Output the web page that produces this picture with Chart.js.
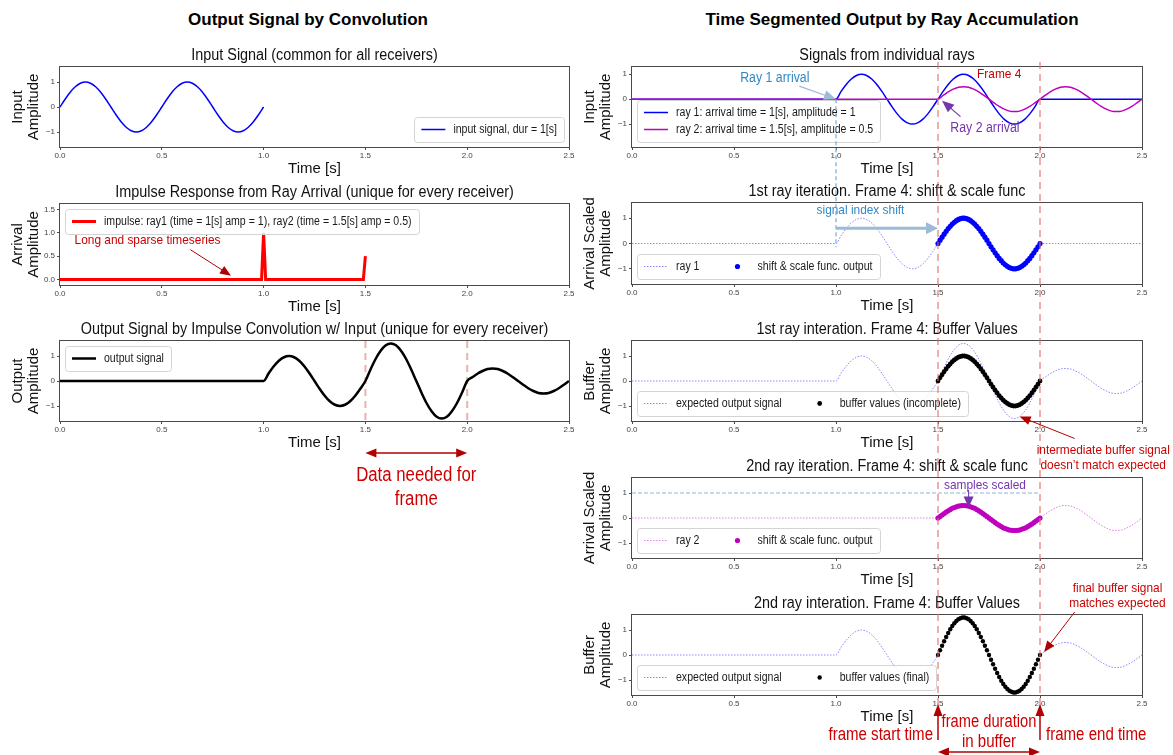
<!DOCTYPE html>
<html>
<head>
<meta charset="utf-8">
<title>Output by convolution vs ray accumulation</title>
<script src="https://cdn.jsdelivr.net/npm/chart.js@4.4.1/dist/chart.umd.min.js"></script>
<style>
  body { margin: 0; width: 1173px; height: 755px; background: #fff; position: relative; overflow: hidden; }
  .sup { position: absolute; top: 10px; font: bold 17px "Liberation Sans Narrow", "Liberation Sans", Arial, sans-serif; color: #000; text-align: center; }
  canvas { position: absolute; }
</style>
</head>
<body>
<div class="sup" style="left:8px;width:600px">Output Signal by Convolution</div>
<div class="sup" style="left:592px;width:600px">Time Segmented Output by Ray Accumulation</div>
<canvas id="overlay" width="1173" height="755" style="left:0;top:0;z-index:5;pointer-events:none"></canvas>
<script>
// sample times [s]
const t = [0, 0.025, 0.05, 0.075, 0.1, 0.125, 0.15, 0.175, 0.2, 0.225,
  0.25, 0.275, 0.3, 0.325, 0.35, 0.375, 0.4, 0.425, 0.45, 0.475,
  0.5, 0.525, 0.55, 0.575, 0.6, 0.625, 0.65, 0.675, 0.7, 0.725,
  0.75, 0.775, 0.8, 0.825, 0.85, 0.875, 0.9, 0.925, 0.95, 0.975,
  1, 1.025, 1.05, 1.075, 1.1, 1.125, 1.15, 1.175, 1.2, 1.225,
  1.25, 1.275, 1.3, 1.325, 1.35, 1.375, 1.4, 1.425, 1.45, 1.475,
  1.5, 1.525, 1.55, 1.575, 1.6, 1.625, 1.65, 1.675, 1.7, 1.725,
  1.75, 1.775, 1.8, 1.825, 1.85, 1.875, 1.9, 1.925, 1.95, 1.975,
  2, 2.025, 2.05, 2.075, 2.1, 2.125, 2.15, 2.175, 2.2, 2.225,
  2.25, 2.275, 2.3, 2.325, 2.35, 2.375, 2.4, 2.425, 2.45, 2.475,
  2.5];

const inputT = t.slice(0, 41);
const inputSignal = [0, 0.31, 0.59, 0.81, 0.95, 1, 0.95, 0.81, 0.59, 0.31,
  0, -0.31, -0.59, -0.81, -0.95, -1, -0.95, -0.81, -0.59, -0.31,
  0, 0.31, 0.59, 0.81, 0.95, 1, 0.95, 0.81, 0.59, 0.31,
  0, -0.31, -0.59, -0.81, -0.95, -1, -0.95, -0.81, -0.59, -0.31,
  0];

const impulseT = [0, 0.99, 1.0, 1.01, 1.49, 1.5];
const impulseAmp = [0, 0, 1, 0, 0, 0.5];

const ray1Signal = [0, 0, 0, 0, 0, 0, 0, 0, 0, 0,
  0, 0, 0, 0, 0, 0, 0, 0, 0, 0,
  0, 0, 0, 0, 0, 0, 0, 0, 0, 0,
  0, 0, 0, 0, 0, 0, 0, 0, 0, 0,
  0, 0.31, 0.59, 0.81, 0.95, 1, 0.95, 0.81, 0.59, 0.31,
  0, -0.31, -0.59, -0.81, -0.95, -1, -0.95, -0.81, -0.59, -0.31,
  0, 0.31, 0.59, 0.81, 0.95, 1, 0.95, 0.81, 0.59, 0.31,
  0, -0.31, -0.59, -0.81, -0.95, -1, -0.95, -0.81, -0.59, -0.31,
  0, 0, 0, 0, 0, 0, 0, 0, 0, 0,
  0, 0, 0, 0, 0, 0, 0, 0, 0, 0,
  0];

const ray2Signal = [0, 0, 0, 0, 0, 0, 0, 0, 0, 0,
  0, 0, 0, 0, 0, 0, 0, 0, 0, 0,
  0, 0, 0, 0, 0, 0, 0, 0, 0, 0,
  0, 0, 0, 0, 0, 0, 0, 0, 0, 0,
  0, 0, 0, 0, 0, 0, 0, 0, 0, 0,
  0, 0, 0, 0, 0, 0, 0, 0, 0, 0,
  0, 0.15, 0.29, 0.4, 0.48, 0.5, 0.48, 0.4, 0.29, 0.15,
  0, -0.15, -0.29, -0.4, -0.48, -0.5, -0.48, -0.4, -0.29, -0.15,
  0, 0.15, 0.29, 0.4, 0.48, 0.5, 0.48, 0.4, 0.29, 0.15,
  0, -0.15, -0.29, -0.4, -0.48, -0.5, -0.48, -0.4, -0.29, -0.15,
  0];

const outputSignal = [0, 0, 0, 0, 0, 0, 0, 0, 0, 0,
  0, 0, 0, 0, 0, 0, 0, 0, 0, 0,
  0, 0, 0, 0, 0, 0, 0, 0, 0, 0,
  0, 0, 0, 0, 0, 0, 0, 0, 0, 0,
  0, 0.31, 0.59, 0.81, 0.95, 1, 0.95, 0.81, 0.59, 0.31,
  0, -0.31, -0.59, -0.81, -0.95, -1, -0.95, -0.81, -0.59, -0.31,
  0, 0.46, 0.88, 1.21, 1.43, 1.5, 1.43, 1.21, 0.88, 0.46,
  0, -0.46, -0.88, -1.21, -1.43, -1.5, -1.43, -1.21, -0.88, -0.46,
  0, 0.15, 0.29, 0.4, 0.48, 0.5, 0.48, 0.4, 0.29, 0.15,
  0, -0.15, -0.29, -0.4, -0.48, -0.5, -0.48, -0.4, -0.29, -0.15,
  0];

// frame 4 samples, 1.5 s .. 2.0 s
const frameT = [1.5, 1.51, 1.52, 1.53, 1.54, 1.55, 1.56, 1.57, 1.58, 1.59,
  1.6, 1.61, 1.62, 1.63, 1.64, 1.65, 1.66, 1.67, 1.68, 1.69,
  1.7, 1.71, 1.72, 1.73, 1.74, 1.75, 1.76, 1.77, 1.78, 1.79,
  1.8, 1.81, 1.82, 1.83, 1.84, 1.85, 1.86, 1.87, 1.88, 1.89,
  1.9, 1.91, 1.92, 1.93, 1.94, 1.95, 1.96, 1.97, 1.98, 1.99,
  2.0];
const shiftRay1 = [0, 0.13, 0.25, 0.37, 0.48, 0.59, 0.68, 0.77, 0.84, 0.9,
  0.95, 0.98, 1, 1, 0.98, 0.95, 0.9, 0.84, 0.77, 0.68,
  0.59, 0.48, 0.37, 0.25, 0.13, 0, -0.13, -0.25, -0.37, -0.48,
  -0.59, -0.68, -0.77, -0.84, -0.9, -0.95, -0.98, -1, -1, -0.98,
  -0.95, -0.9, -0.84, -0.77, -0.68, -0.59, -0.48, -0.37, -0.25, -0.13,
  0];
const bufferIncomplete = shiftRay1.slice();
const shiftRay2 = [0, 0.06, 0.12, 0.18, 0.24, 0.29, 0.34, 0.39, 0.42, 0.45,
  0.48, 0.49, 0.5, 0.5, 0.49, 0.48, 0.45, 0.42, 0.39, 0.34,
  0.29, 0.24, 0.18, 0.12, 0.06, 0, -0.06, -0.12, -0.18, -0.24,
  -0.29, -0.34, -0.39, -0.42, -0.45, -0.48, -0.49, -0.5, -0.5, -0.49,
  -0.48, -0.45, -0.42, -0.39, -0.34, -0.29, -0.24, -0.18, -0.12, -0.06,
  0];
const bufferFinal = [0, 0.19, 0.37, 0.55, 0.72, 0.88, 1.03, 1.16, 1.27, 1.36,
  1.43, 1.47, 1.5, 1.5, 1.47, 1.43, 1.36, 1.27, 1.16, 1.03,
  0.88, 0.72, 0.55, 0.37, 0.19, 0, -0.19, -0.37, -0.55, -0.72,
  -0.88, -1.03, -1.16, -1.27, -1.36, -1.43, -1.47, -1.5, -1.5, -1.47,
  -1.43, -1.36, -1.27, -1.16, -1.03, -0.88, -0.72, -0.55, -0.37, -0.19,
  0];

const xTicks = [0, 0.5, 1.0, 1.5, 2.0, 2.5];
const frameStart = 1.5, frameEnd = 2.0, ray1Arrival = 1.0;

const FONT = '"Liberation Sans Narrow","Liberation Sans",Arial,sans-serif';
const RED_TXT = '#cc0000', RED_ARR = '#b20000', PURPLE = '#7435ad', BLUE_TXT = '#2f88c8', LIGHT_ARR = '#9dbad6';
const FRAME_RED = 'rgba(226,110,110,0.55)';
const BLUE = '#0000ff', MAG = '#bf00bf';
const DOT_BLUE = 'rgba(40,40,255,0.55)', DOT_MAG = 'rgba(200,0,200,0.5)';
const SQUEEZE = 0.88;

const YW = 51, XH = 32, TH = 22, RP = 12;

function xy(xs, ys) { return xs.map((x, i) => ({ x: x, y: ys[i] })); }

function lineSet(label, xs, ys, color, width, dash, order) {
  return { label: label, data: xy(xs, ys), borderColor: color, borderWidth: width, borderDash: dash || [],
    pointRadius: 0, cubicInterpolationMode: 'monotone', fill: false, order: order || 0 };
}
function dotSet(label, xs, ys, color, r, order) {
  return { label: label, data: xy(xs, ys), showLine: false, pointRadius: r, pointBackgroundColor: color,
    pointBorderWidth: 0, borderColor: color, order: order || 0 };
}

const framePlugin = {
  id: 'frame',
  afterDatasetsDraw(chart) {
    const a = chart.chartArea, ctx = chart.ctx;
    ctx.save();
    ctx.strokeStyle = '#4a4a4a';
    ctx.lineWidth = 1;
    ctx.strokeRect(a.left - 0.5, a.top - 0.5, a.right - a.left + 1, a.bottom - a.top + 1);
    ctx.restore();
  }
};

// axes title, centred over the plot area (space reserved by layout padding)
const titlePlugin = {
  id: 'axTitle',
  afterDraw(chart, args, o) {
    if (!o || !o.text) return;
    const ctx = chart.ctx, a = chart.chartArea;
    ctx.save();
    ctx.font = '16px ' + FONT;
    ctx.fillStyle = '#111';
    ctx.textAlign = 'center';
    ctx.textBaseline = 'middle';
    ctx.fillText(o.text, (a.left + a.right) / 2, a.top - 11, ctx.measureText(o.text).width * 0.9);
    ctx.restore();
  }
};

const guidesPlugin = {
  id: 'guides',
  beforeDatasetsDraw(chart, args, opts) {
    if (!opts || !opts.lines) return;
    const ctx = chart.ctx, a = chart.chartArea, sx = chart.scales.x, sy = chart.scales.y;
    ctx.save();
    for (const g of opts.lines) {
      ctx.strokeStyle = g.color;
      ctx.lineWidth = g.width;
      ctx.setLineDash(g.dash);
      ctx.beginPath();
      if (g.x !== undefined) {
        const px = sx.getPixelForValue(g.x);
        ctx.moveTo(px, a.top); ctx.lineTo(px, a.bottom);
      } else {
        const py = sy.getPixelForValue(g.y);
        ctx.moveTo(sx.getPixelForValue(g.x0), py); ctx.lineTo(sx.getPixelForValue(g.x1), py);
      }
      ctx.stroke();
    }
    ctx.restore();
  }
};

// matplotlib-like legend box drawn inside the axes
const legendPlugin = {
  id: 'mplLegend',
  afterDatasetsDraw(chart, args, o) {
    if (!o || !o.loc) return;
    const items = chart.data.datasets.filter(d => d.label);
    const ctx = chart.ctx, a = chart.chartArea;
    const fs = 12, hl = 24, gap = 8, colGap = 26, padX = 7, padY = 4, rowH = 17, bap = 5;
    const ncol = o.ncol || 1;
    const rows = Math.ceil(items.length / ncol);
    ctx.save();
    ctx.font = fs + 'px ' + FONT;
    const colW = [], txtW = [];
    items.forEach((d, i) => {
      const c = Math.floor(i / rows);
      txtW[i] = ctx.measureText(d.label).width * SQUEEZE;
      colW[c] = Math.max(colW[c] || 0, hl + gap + txtW[i]);
    });
    const W = padX * 2 + colW.reduce((s, v) => s + v, 0) + colGap * (colW.length - 1);
    const H = padY * 2 + rows * rowH;
    const x0 = o.loc.indexOf('right') >= 0 ? a.right - bap - W : a.left + bap;
    const y0 = o.loc.indexOf('upper') >= 0 ? a.top + bap : a.bottom - bap - H;
    ctx.beginPath();
    ctx.roundRect(Math.round(x0) + 0.5, Math.round(y0) + 0.5, Math.round(W), Math.round(H), 3);
    ctx.fillStyle = 'rgba(255,255,255,0.8)';
    ctx.fill();
    ctx.strokeStyle = '#d4d4d4';
    ctx.lineWidth = 1;
    ctx.stroke();
    items.forEach((d, i) => {
      const c = Math.floor(i / rows), r = i % rows;
      let cx = x0 + padX;
      for (let k = 0; k < c; k++) cx += colW[k] + colGap;
      const cy = y0 + padY + r * rowH + rowH / 2;
      if (d.showLine === false) {
        ctx.fillStyle = d.pointBackgroundColor;
        ctx.beginPath();
        ctx.arc(cx + hl / 2, cy, d.pointRadius, 0, Math.PI * 2);
        ctx.fill();
      } else {
        ctx.strokeStyle = d.borderColor;
        ctx.lineWidth = d.borderWidth;
        ctx.setLineDash(d.borderDash || []);
        ctx.beginPath();
        ctx.moveTo(cx, cy); ctx.lineTo(cx + hl, cy);
        ctx.stroke();
        ctx.setLineDash([]);
      }
      ctx.fillStyle = '#1a1a1a';
      ctx.textBaseline = 'middle';
      ctx.fillText(d.label, cx + hl + gap, cy, txtW[i]);
    });
    ctx.restore();
  }
};

function makeChart(box, title, yTitle, yr, datasets, legend, guides) {
  const l = box[0], tp = box[1], r = box[2], b = box[3];
  const cv = document.createElement('canvas');
  const w = r - l + YW + RP, h = b - tp + TH + XH;
  cv.width = w; cv.height = h;
  cv.style.left = (l - YW) + 'px';
  cv.style.top = (tp - TH) + 'px';
  cv.style.width = w + 'px';
  cv.style.height = h + 'px';
  document.body.appendChild(cv);
  const tickFont = { family: FONT, size: 8 };
  const grid = { display: true, drawOnChartArea: false, drawTicks: true, tickLength: 3, color: '#4a4a4a' };
  return new Chart(cv, {
    type: 'line',
    data: { datasets: datasets },
    options: {
      responsive: false, animation: false, devicePixelRatio: 1,
      layout: { padding: { left: 0, right: RP, top: TH, bottom: 0 } },
      plugins: {
        legend: { display: false },
        tooltip: { enabled: false },
        title: { display: false },
        axTitle: { text: title },
        mplLegend: legend,
        guides: guides || {}
      },
      scales: {
        x: {
          type: 'linear', min: 0, max: 2.5,
          afterFit: s => { s.height = XH; },
          afterBuildTicks: s => { s.ticks = xTicks.map(v => ({ value: v })); },
          ticks: { callback: v => v.toFixed(1), font: tickFont, color: '#444', padding: 1, maxRotation: 0, autoSkip: false },
          grid: grid, border: { display: false },
          title: { display: true, text: 'Time [s]', color: '#111', font: { family: FONT, size: 15 }, padding: { top: 0, bottom: 1 } }
        },
        y: {
          min: yr[0], max: yr[1],
          afterFit: s => { s.width = YW; },
          ticks: { stepSize: yr[2], includeBounds: false, font: tickFont, color: '#444', padding: 2,
            callback: v => yr[2] < 1 ? v.toFixed(1) : (v < 0 ? '\u2212' + Math.abs(v) : String(v)) },
          grid: grid, border: { display: false },
          title: { display: true, text: yTitle, color: '#111', font: { family: FONT, size: 15, lineHeight: 1.08 }, padding: { top: 1, bottom: 0 } }
        }
      }
    },
    plugins: [framePlugin, guidesPlugin, legendPlugin, titlePlugin]
  });
}

const LX = [60, 569], RX = [632, 1142];
const fullY = [-1.6, 1.6, 1];
const frameLines = { lines: [
  { x: frameStart, color: FRAME_RED, width: 2, dash: [7, 5] },
  { x: frameEnd, color: FRAME_RED, width: 2, dash: [7, 5] }] };

const L1 = makeChart([LX[0], 67, LX[1], 147], 'Input Signal (common for all receivers)', ['Input', 'Amplitude'], fullY,
  [lineSet('input signal, dur = 1[s]', inputT, inputSignal, BLUE, 1.5)], { loc: 'lower right' });

const L2 = makeChart([LX[0], 204, LX[1], 285], 'Impulse Response from Ray Arrival (unique for every receiver)', ['Arrival', 'Amplitude'], [-0.12, 1.62, 0.5],
  [Object.assign(lineSet('impulse: ray1 (time = 1[s] amp = 1), ray2 (time = 1.5[s] amp = 0.5)', impulseT, impulseAmp, '#ff0000', 3),
    { cubicInterpolationMode: 'default', tension: 0 })], { loc: 'upper left' });

const L3 = makeChart([LX[0], 341, LX[1], 421], 'Output Signal by Impulse Convolution w/ Input (unique for every receiver)', ['Output', 'Amplitude'], fullY,
  [lineSet('output signal', t, outputSignal, '#000', 2.5)], { loc: 'upper left' }, frameLines);

const R1 = makeChart([RX[0], 67, RX[1], 147], 'Signals from individual rays', ['Input', 'Amplitude'], [-1.92, 1.29, 1],
  [lineSet('ray 1: arrival time = 1[s], amplitude = 1', t, ray1Signal, BLUE, 1.5, null, 1),
   lineSet('ray 2: arrival time = 1.5[s], amplitude = 0.5', t, ray2Signal, MAG, 1.5, null, 0)], { loc: 'lower left' });

const R2 = makeChart([RX[0], 203, RX[1], 284], '1st ray iteration. Frame 4: shift & scale func', ['Arrival Scaled', 'Amplitude'], fullY,
  [lineSet('ray 1', t, ray1Signal, DOT_BLUE, 1, [1.5, 1.5], 1),
   dotSet('shift & scale func. output', frameT, shiftRay1, BLUE, 2.6, 0)], { loc: 'lower left', ncol: 2 });

const R3 = makeChart([RX[0], 341, RX[1], 421], '1st ray interation. Frame 4: Buffer Values', ['Buffer', 'Amplitude'], fullY,
  [lineSet('expected output signal', t, outputSignal, DOT_BLUE, 1, [1.5, 1.5], 1),
   dotSet('buffer values (incomplete)', frameT, bufferIncomplete, '#000', 2.4, 0)], { loc: 'lower left', ncol: 2 });

const R4 = makeChart([RX[0], 478, RX[1], 558], '2nd ray iteration. Frame 4: shift & scale func', ['Arrival Scaled', 'Amplitude'], fullY,
  [lineSet('ray 2', t, ray2Signal, DOT_MAG, 1, [1.5, 1.5], 1),
   dotSet('shift & scale func. output', frameT, shiftRay2, MAG, 2.6, 0)], { loc: 'lower left', ncol: 2 },
  { lines: [{ y: 1, x0: 0, x1: frameEnd, color: '#8fb6da', width: 1, dash: [4, 2] }] });

const R5 = makeChart([RX[0], 615, RX[1], 695], '2nd ray interation. Frame 4: Buffer Values', ['Buffer', 'Amplitude'], fullY,
  [lineSet('expected output signal', t, outputSignal, DOT_BLUE, 1, [1.5, 1.5], 1),
   dotSet('buffer values (final)', frameT, bufferFinal, '#000', 2.2, 0)], { loc: 'lower left', ncol: 2 });

// ---------- figure level annotations ----------
function P(ch, x, y) {
  const c = ch.canvas;
  return [parseFloat(c.style.left) + ch.scales.x.getPixelForValue(x), parseFloat(c.style.top) + ch.scales.y.getPixelForValue(y)];
}
const ov = document.getElementById('overlay').getContext('2d');

function head(x, y, ang, hl, hw) {
  ov.beginPath();
  ov.moveTo(x, y);
  ov.lineTo(x - hl * Math.cos(ang) + hw / 2 * Math.sin(ang), y - hl * Math.sin(ang) - hw / 2 * Math.cos(ang));
  ov.lineTo(x - hl * Math.cos(ang) - hw / 2 * Math.sin(ang), y - hl * Math.sin(ang) + hw / 2 * Math.cos(ang));
  ov.closePath();
  ov.fill();
}
function arrow(p1, p2, color, lw, hl, hw, both) {
  const ang = Math.atan2(p2[1] - p1[1], p2[0] - p1[0]);
  ov.save();
  ov.strokeStyle = color; ov.fillStyle = color; ov.lineWidth = lw;
  ov.beginPath();
  const s = both ? [p1[0] + hl * 0.6 * Math.cos(ang), p1[1] + hl * 0.6 * Math.sin(ang)] : p1;
  ov.moveTo(s[0], s[1]);
  ov.lineTo(p2[0] - hl * 0.6 * Math.cos(ang), p2[1] - hl * 0.6 * Math.sin(ang));
  ov.stroke();
  head(p2[0], p2[1], ang, hl, hw);
  if (both) head(p1[0], p1[1], ang + Math.PI, hl, hw);
  ov.restore();
}
function label(txt, p, color, size, align, sq) {
  ov.save();
  ov.font = size + 'px ' + FONT;
  ov.fillStyle = color;
  ov.textAlign = align || 'center';
  ov.textBaseline = 'middle';
  ov.fillText(txt, p[0], p[1], ov.measureText(txt).width * (sq || SQUEEZE));
  ov.restore();
}
function vdash(x, y1, y2, color, width, dash) {
  ov.save();
  ov.strokeStyle = color; ov.lineWidth = width; ov.setLineDash(dash);
  ov.beginPath(); ov.moveTo(x, y1); ov.lineTo(x, y2); ov.stroke();
  ov.restore();
}

// frame boundaries across the right column
const r1Top = parseFloat(R1.canvas.style.top) + R1.chartArea.top;
const r5Bot = parseFloat(R5.canvas.style.top) + R5.chartArea.bottom;
vdash(P(R1, frameStart, 0)[0], r1Top - 5, r5Bot + 27, FRAME_RED, 2, [7, 5]);
vdash(P(R1, frameEnd, 0)[0], r1Top - 5, r5Bot + 27, FRAME_RED, 2, [7, 5]);

// left column
label('Long and sparse timeseries', P(L2, 0.43, 0.84), RED_TXT, 13.5);
arrow(P(L2, 0.64, 0.64), P(L2, 0.84, 0.08), RED_ARR, 1, 11, 9);

const l3Bot = parseFloat(L3.canvas.style.top) + L3.chartArea.bottom;
const dA = P(L3, frameStart, 0)[0], dB = P(L3, frameEnd, 0)[0];
arrow([dA, l3Bot + 32], [dB, l3Bot + 32], RED_ARR, 1.5, 11, 9, true);
label('Data needed for', [(dA + dB) / 2, l3Bot + 55], RED_TXT, 19.5, 'center', 0.86);
label('frame', [(dA + dB) / 2, l3Bot + 79], RED_TXT, 19.5, 'center', 0.86);

// right column
label('Frame 4', P(R1, 1.8, 1.0), RED_TXT, 13.5);
label('Ray 1 arrival', P(R1, 0.7, 0.84), BLUE_TXT, 14);
arrow(P(R1, 0.82, 0.52), P(R1, ray1Arrival, 0), LIGHT_ARR, 1.2, 12, 10);
label('Ray 2 arrival', P(R1, 1.73, -1.16), PURPLE, 14);
arrow(P(R1, 1.61, -0.7), P(R1, 1.52, -0.06), PURPLE, 1.2, 12, 10);
vdash(P(R1, ray1Arrival, 0)[0], P(R1, ray1Arrival, 0)[1], P(R2, ray1Arrival, -0.15)[1], '#7aaed6', 1.2, [4, 3]);

label('signal index shift', P(R2, 1.12, 1.3), BLUE_TXT, 13.5);
arrow(P(R2, ray1Arrival, 0.6), P(R2, frameStart, 0.6), LIGHT_ARR, 3, 12, 12);

label('intermediate buffer signal', P(R3, 2.31, -2.76), RED_TXT, 13.5);
label('doesn\u2019t match expected', P(R3, 2.31, -3.36), RED_TXT, 13.5);
arrow(P(R3, 2.17, -2.3), P(R3, 1.9, -1.42), RED_ARR, 1, 11, 9);

label('samples scaled', P(R4, 1.73, 1.32), PURPLE, 13.5);
arrow(P(R4, 1.65, 1.12), P(R4, 1.65, 0.42), PURPLE, 1, 11, 10);

label('final buffer signal', P(R5, 2.38, 2.68), RED_TXT, 13.5);
label('matches expected', P(R5, 2.38, 2.08), RED_TXT, 13.5);
arrow(P(R5, 2.17, 1.72), P(R5, 2.02, 0.12), RED_ARR, 1, 11, 9);

const fA = P(R5, frameStart, 0)[0], fB = P(R5, frameEnd, 0)[0];
arrow([fA, r5Bot + 45], [fA, r5Bot + 9], RED_ARR, 1.5, 12, 9);
arrow([fB, r5Bot + 45], [fB, r5Bot + 9], RED_ARR, 1.5, 12, 9);
label('frame start time', [fA - 5, r5Bot + 40], RED_TXT, 17.5, 'right', 0.86);
label('frame end time', [fB + 6, r5Bot + 40], RED_TXT, 17.5, 'left', 0.86);
label('frame duration', [(fA + fB) / 2, r5Bot + 27], RED_TXT, 17.5, 'center', 0.84);
label('in buffer', [(fA + fB) / 2, r5Bot + 47], RED_TXT, 17.5, 'center', 0.86);
arrow([fA, r5Bot + 57], [fB, r5Bot + 57], RED_ARR, 1.5, 11, 9, true);
</script>
</body>
</html>
